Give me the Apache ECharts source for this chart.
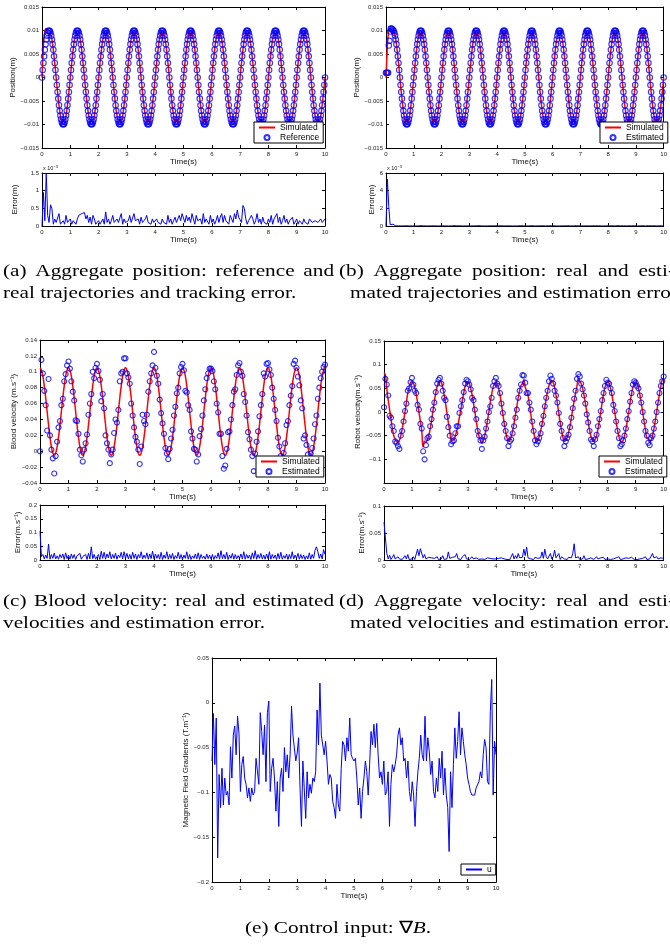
<!DOCTYPE html>
<html>
<head>
<meta charset="utf-8">
<title>Aggregate tracking results</title>
<script src="https://cdn.jsdelivr.net/npm/echarts@6.0.0/dist/echarts.min.js"></script>
<style>
  html, body { margin: 0; padding: 0; background: #fff; }
  #fig { width: 670px; height: 944px; }
</style>
</head>
<body>
<div id="fig"></div>
<script>
// time steps of the sampled series (s)
const POS_DT = 0.025;
const DT = 0.05;

// (a)/(b) reference position, one row per second (m)
const posRef = [
  0, 0.0016, 0.0031, 0.0045, 0.0059, 0.0071, 0.0081, 0.0089, 0.0095, 0.0099, 0.01, 0.0099, 0.0095, 0.0089, 0.0081, 0.0071, 0.0059, 0.0045, 0.0031, 0.0016, 0, -0.0016, -0.0031, -0.0045, -0.0059, -0.0071, -0.0081, -0.0089, -0.0095, -0.0099, -0.01, -0.0099, -0.0095, -0.0089, -0.0081, -0.0071, -0.0059, -0.0045, -0.0031, -0.0016,
  0, 0.0016, 0.0031, 0.0045, 0.0059, 0.0071, 0.0081, 0.0089, 0.0095, 0.0099, 0.01, 0.0099, 0.0095, 0.0089, 0.0081, 0.0071, 0.0059, 0.0045, 0.0031, 0.0016, 0, -0.0016, -0.0031, -0.0045, -0.0059, -0.0071, -0.0081, -0.0089, -0.0095, -0.0099, -0.01, -0.0099, -0.0095, -0.0089, -0.0081, -0.0071, -0.0059, -0.0045, -0.0031, -0.0016,
  0, 0.0016, 0.0031, 0.0045, 0.0059, 0.0071, 0.0081, 0.0089, 0.0095, 0.0099, 0.01, 0.0099, 0.0095, 0.0089, 0.0081, 0.0071, 0.0059, 0.0045, 0.0031, 0.0016, 0, -0.0016, -0.0031, -0.0045, -0.0059, -0.0071, -0.0081, -0.0089, -0.0095, -0.0099, -0.01, -0.0099, -0.0095, -0.0089, -0.0081, -0.0071, -0.0059, -0.0045, -0.0031, -0.0016,
  0, 0.0016, 0.0031, 0.0045, 0.0059, 0.0071, 0.0081, 0.0089, 0.0095, 0.0099, 0.01, 0.0099, 0.0095, 0.0089, 0.0081, 0.0071, 0.0059, 0.0045, 0.0031, 0.0016, 0, -0.0016, -0.0031, -0.0045, -0.0059, -0.0071, -0.0081, -0.0089, -0.0095, -0.0099, -0.01, -0.0099, -0.0095, -0.0089, -0.0081, -0.0071, -0.0059, -0.0045, -0.0031, -0.0016,
  0, 0.0016, 0.0031, 0.0045, 0.0059, 0.0071, 0.0081, 0.0089, 0.0095, 0.0099, 0.01, 0.0099, 0.0095, 0.0089, 0.0081, 0.0071, 0.0059, 0.0045, 0.0031, 0.0016, 0, -0.0016, -0.0031, -0.0045, -0.0059, -0.0071, -0.0081, -0.0089, -0.0095, -0.0099, -0.01, -0.0099, -0.0095, -0.0089, -0.0081, -0.0071, -0.0059, -0.0045, -0.0031, -0.0016,
  0, 0.0016, 0.0031, 0.0045, 0.0059, 0.0071, 0.0081, 0.0089, 0.0095, 0.0099, 0.01, 0.0099, 0.0095, 0.0089, 0.0081, 0.0071, 0.0059, 0.0045, 0.0031, 0.0016, 0, -0.0016, -0.0031, -0.0045, -0.0059, -0.0071, -0.0081, -0.0089, -0.0095, -0.0099, -0.01, -0.0099, -0.0095, -0.0089, -0.0081, -0.0071, -0.0059, -0.0045, -0.0031, -0.0016,
  0, 0.0016, 0.0031, 0.0045, 0.0059, 0.0071, 0.0081, 0.0089, 0.0095, 0.0099, 0.01, 0.0099, 0.0095, 0.0089, 0.0081, 0.0071, 0.0059, 0.0045, 0.0031, 0.0016, 0, -0.0016, -0.0031, -0.0045, -0.0059, -0.0071, -0.0081, -0.0089, -0.0095, -0.0099, -0.01, -0.0099, -0.0095, -0.0089, -0.0081, -0.0071, -0.0059, -0.0045, -0.0031, -0.0016,
  0, 0.0016, 0.0031, 0.0045, 0.0059, 0.0071, 0.0081, 0.0089, 0.0095, 0.0099, 0.01, 0.0099, 0.0095, 0.0089, 0.0081, 0.0071, 0.0059, 0.0045, 0.0031, 0.0016, 0, -0.0016, -0.0031, -0.0045, -0.0059, -0.0071, -0.0081, -0.0089, -0.0095, -0.0099, -0.01, -0.0099, -0.0095, -0.0089, -0.0081, -0.0071, -0.0059, -0.0045, -0.0031, -0.0016,
  0, 0.0016, 0.0031, 0.0045, 0.0059, 0.0071, 0.0081, 0.0089, 0.0095, 0.0099, 0.01, 0.0099, 0.0095, 0.0089, 0.0081, 0.0071, 0.0059, 0.0045, 0.0031, 0.0016, 0, -0.0016, -0.0031, -0.0045, -0.0059, -0.0071, -0.0081, -0.0089, -0.0095, -0.0099, -0.01, -0.0099, -0.0095, -0.0089, -0.0081, -0.0071, -0.0059, -0.0045, -0.0031, -0.0016,
  0, 0.0016, 0.0031, 0.0045, 0.0059, 0.0071, 0.0081, 0.0089, 0.0095, 0.0099, 0.01, 0.0099, 0.0095, 0.0089, 0.0081, 0.0071, 0.0059, 0.0045, 0.0031, 0.0016, 0, -0.0016, -0.0031, -0.0045, -0.0059, -0.0071, -0.0081, -0.0089, -0.0095, -0.0099, -0.01, -0.0099, -0.0095, -0.0089, -0.0081, -0.0071, -0.0059, -0.0045, -0.0031, -0.0016,
  0
];
// start-up transient of the simulated position (first 10 samples)
const posSimStart = [0, 0.0035, 0.0068, 0.0088, 0.0099, 0.0104, 0.0105, 0.0104, 0.0102, 0.01];
// start-up of the estimated position in (b) (first 11 samples)
const posEstStart = [0.001, 0.001, 0.001, 0.001, 0.0068, 0.0078, 0.0098, 0.0104, 0.0104, 0.0102, 0.0101];

// (a) tracking error, x 10^-3 m
const errA = [
  0, 0.95, 0.15, 1.5, 0.3, 0.1, 0.6, 0.5, 0.05, 0.2, 0.1, 0.05, 0.35, 0.05, 0.1, 0.15, 0.05, 0.3, 0.1, 0.05,
  0.2, 0.05, 0.15, 0.1, 0.05, 0.2, 0.3, 0.25, 0.35, 0.3, 0.38, 0.2, 0.3, 0.1, 0.25, 0.05, 0.3, 0.2, 0.05, 0.1,
  0.15, 0.05, 0.1, 0.2, 0.05, 0.4, 0.1, 0.2, 0.05, 0.15, 0.3, 0.1, 0.05, 0.2, 0.1, 0.15, 0.35, 0.05, 0.2, 0.1,
  0.05, 0.15, 0.3, 0.1, 0.05, 0.35, 0.15, 0.1, 0.2, 0.05, 0.25, 0.1, 0.05, 0.2, 0.3, 0.1, 0.15, 0.05, 0.2, 0.1,
  0.05, 0.2, 0.1, 0.15, 0.05, 0.2, 0.1, 0.15, 0.05, 0.3, 0.1, 0.2, 0.05, 0.15, 0.25, 0.1, 0.2, 0.3, 0.15, 0.35,
  0.4, 0.1, 0.3, 0.15, 0.25, 0.1, 0.35, 0.2, 0.05, 0.3, 0.15, 0.1, 0.2, 0.05, 0.35, 0.1, 0.2, 0.15, 0.05, 0.3,
  0.1, 0.2, 0.05, 0.15, 0.3, 0.1, 0.25, 0.35, 0.1, 0.3, 0.15, 0.2, 0.05, 0.3, 0.2, 0.1, 0.35, 0.2, 0.45, 0.25,
  0.3, 0.1, 0.58, 0.5, 0.2, 0.05, 0.15, 0.1, 0.3, 0.2, 0.05, 0.15, 0.35, 0.1, 0.2, 0.05, 0.25, 0.1, 0.15, 0.05,
  0.2, 0.1, 0.3, 0.05, 0.2, 0.15, 0.35, 0.1, 0.25, 0.05, 0.15, 0.3, 0.1, 0.2, 0.05, 0.15, 0.1, 0.25, 0.05, 0.1,
  0.2, 0.05, 0.15, 0.1, 0.05, 0.2, 0.1, 0.15, 0.05, 0.2, 0.25, 0.1, 0.05, 0.15, 0.2, 0.1, 0.05, 0.2, 0.1, 0.15,
  0.2
];

// (b) estimation error, x 10^-3 m
const errB = [
  0, 5.3, 2.2, 0.15, 0.05, 0.2, 0.04, 0.02, 0.05, 0.02, 0.03, 0.01, 0.04, 0.02, 0.01, 0.03, 0.02, 0.01, 0.02, 0.01,
  0.02, 0.01, 0.03, 0.01, 0.02, 0.04, 0.01, 0.02, 0.03, 0.01, 0.02, 0.01, 0.03, 0.02, 0.01, 0.02, 0.04, 0.01, 0.02, 0.01,
  0.01, 0.03, 0.02, 0.01, 0.02, 0.01, 0.03, 0.01, 0.02, 0.04, 0.01, 0.02, 0.01, 0.03, 0.02, 0.01, 0.02, 0.01, 0.03, 0.02,
  0.02, 0.01, 0.03, 0.02, 0.01, 0.02, 0.01, 0.04, 0.02, 0.01, 0.03, 0.01, 0.02, 0.01, 0.03, 0.02, 0.01, 0.02, 0.01, 0.03,
  0.01, 0.02, 0.01, 0.03, 0.02, 0.01, 0.04, 0.02, 0.01, 0.02, 0.03, 0.01, 0.02, 0.01, 0.03, 0.01, 0.02, 0.04, 0.01, 0.02,
  0.02, 0.01, 0.03, 0.01, 0.02, 0.04, 0.02, 0.01, 0.03, 0.02, 0.01, 0.02, 0.01, 0.03, 0.02, 0.01, 0.02, 0.03, 0.01, 0.02,
  0.01, 0.02, 0.04, 0.01, 0.02, 0.01, 0.03, 0.02, 0.01, 0.02, 0.01, 0.03, 0.02, 0.01, 0.04, 0.02, 0.01, 0.03, 0.01, 0.02,
  0.02, 0.01, 0.03, 0.02, 0.01, 0.02, 0.04, 0.01, 0.02, 0.03, 0.1, 0.02, 0.01, 0.03, 0.02, 0.01, 0.02, 0.01, 0.03, 0.02,
  0.08, 0.02, 0.01, 0.03, 0.02, 0.01, 0.02, 0.04, 0.01, 0.02, 0.01, 0.03, 0.02, 0.01, 0.02, 0.03, 0.01, 0.02, 0.01, 0.03,
  0.02, 0.01, 0.08, 0.02, 0.01, 0.03, 0.02, 0.01, 0.02, 0.04, 0.01, 0.02, 0.01, 0.03, 0.02, 0.01, 0.02, 0.03, 0.01, 0.02,
  0.02
];

// (c) blood velocity, simulated and estimated (m/s)
const bloodSim = [
  0.105, 0.102, 0.0945, 0.0823, 0.067, 0.05, 0.033, 0.0177, 0.0055, -0.0023, -0.005, -0.0023, 0.0055, 0.0177, 0.033, 0.05, 0.067, 0.0823, 0.0945, 0.102,
  0.105, 0.102, 0.0945, 0.0823, 0.067, 0.05, 0.033, 0.0177, 0.0055, -0.0023, -0.005, -0.0023, 0.0055, 0.0177, 0.033, 0.05, 0.067, 0.0823, 0.0945, 0.102,
  0.105, 0.102, 0.0945, 0.0823, 0.067, 0.05, 0.033, 0.0177, 0.0055, -0.0023, -0.005, -0.0023, 0.0055, 0.0177, 0.033, 0.05, 0.067, 0.0823, 0.0945, 0.102,
  0.105, 0.102, 0.0945, 0.0823, 0.067, 0.05, 0.033, 0.0177, 0.0055, -0.0023, -0.005, -0.0023, 0.0055, 0.0177, 0.033, 0.05, 0.067, 0.0823, 0.0945, 0.102,
  0.105, 0.102, 0.0945, 0.0823, 0.067, 0.05, 0.033, 0.0177, 0.0055, -0.0023, -0.005, -0.0023, 0.0055, 0.0177, 0.033, 0.05, 0.067, 0.0823, 0.0945, 0.102,
  0.105, 0.102, 0.0945, 0.0823, 0.067, 0.05, 0.033, 0.0177, 0.0055, -0.0023, -0.005, -0.0023, 0.0055, 0.0177, 0.033, 0.05, 0.067, 0.0823, 0.0945, 0.102,
  0.105, 0.102, 0.0945, 0.0823, 0.067, 0.05, 0.033, 0.0177, 0.0055, -0.0023, -0.005, -0.0023, 0.0055, 0.0177, 0.033, 0.05, 0.067, 0.0823, 0.0945, 0.102,
  0.105, 0.102, 0.0945, 0.0823, 0.067, 0.05, 0.033, 0.0177, 0.0055, -0.0023, -0.005, -0.0023, 0.0055, 0.0177, 0.033, 0.05, 0.067, 0.0823, 0.0945, 0.102,
  0.105, 0.102, 0.0945, 0.0823, 0.067, 0.05, 0.033, 0.0177, 0.0055, -0.0023, -0.005, -0.0023, 0.0055, 0.0177, 0.033, 0.05, 0.067, 0.0823, 0.0945, 0.102,
  0.105, 0.102, 0.0945, 0.0823, 0.067, 0.05, 0.033, 0.0177, 0.0055, -0.0023, -0.005, -0.0023, 0.0055, 0.0177, 0.033, 0.05, 0.067, 0.0823, 0.0945, 0.102,
  0.108
];
const bloodEst = [
  0, 0.115, 0.098, 0.076, 0.058, 0.026, 0.091, 0.02, 0.002, -0.009, -0.028, -0.006, 0.012, 0.03, 0.038, 0.058, 0.066, 0.088, 0.097, 0.108,
  0.113, 0.104, 0.088, 0.075, 0.064, 0.039, 0.038, 0.022, 0.002, -0.005, -0.013, 0.002, 0.01, 0.021, 0.046, 0.06, 0.072, 0.1, 0.092, 0.105,
  0.11, 0.101, 0.09, 0.063, 0.072, 0.054, 0.02, 0.01, 0.002, -0.015, -0.004, 0.002, 0.023, 0.04, 0.036, 0.052, 0.088, 0.098, 0.1, 0.117,
  0.117, 0.098, 0.093, 0.085, 0.06, 0.045, 0.03, 0.018, 0.012, 0.002, -0.016, 0.006, 0.046, 0.038, 0.034, 0.046, 0.075, 0.088, 0.098, 0.108,
  0.125, 0.105, 0.095, 0.085, 0.065, 0.048, 0.035, 0.022, 0.004, -0.003, -0.01, 0.003, 0.016, 0.027, 0.045, 0.056, 0.073, 0.08, 0.098, 0.106,
  0.11, 0.102, 0.076, 0.074, 0.058, 0.052, 0.025, 0.016, 0.003, 0.002, -0.013, -0.004, 0.019, 0.028, 0.045, 0.064, 0.078, 0.092, 0.098, 0.104,
  0.104, 0.101, 0.088, 0.078, 0.06, 0.049, 0.022, 0.022, -0.006, -0.022, -0.018, 0.003, 0.024, 0.025, 0.04, 0.058, 0.075, 0.078, 0.096, 0.108,
  0.111, 0.1, 0.095, 0.072, 0.062, 0.045, 0.024, 0.015, 0.002, -0.006, -0.025, -0.003, 0.012, 0.025, 0.044, 0.058, 0.072, 0.098, 0.094, 0.11,
  0.111, 0.103, 0.096, 0.08, 0.066, 0.052, 0.038, 0.017, 0.006, -0.006, -0.01, -0.002, 0.01, 0.033, 0.038, 0.058, 0.07, 0.082, 0.11, 0.114,
  0.105, 0.094, 0.083, 0.064, 0.054, 0.016, 0.02, 0.008, -0.004, -0.01, -0.003, 0.004, 0.016, 0.034, 0.045, 0.066, 0.08, 0.092, 0.1, 0.106,
  0.109
];
const errC = [
  0.105, 0.012, 0.02, 0.004, 0.018, 0.006, 0.058, 0.003, 0.02, 0.006, 0.025, 0.004, 0.015, 0.003, 0.02, 0.008, 0.022, 0.002, 0.026, 0.005,
  0.018, 0.003, 0.022, 0.006, 0.02, 0.002, 0.015, 0.008, 0.024, 0.003, 0.012, 0.006, 0.02, 0.002, 0.024, 0.004, 0.048, 0.005, 0.02, 0.003,
  0.01, 0.02, 0.002, 0.032, 0.006, 0.028, 0.003, 0.022, 0.008, 0.03, 0.004, 0.02, 0.006, 0.025, 0.003, 0.018, 0.009, 0.028, 0.004, 0.03,
  0.006, 0.024, 0.004, 0.02, 0.003, 0.028, 0.006, 0.022, 0.002, 0.02, 0.008, 0.03, 0.004, 0.018, 0.006, 0.026, 0.003, 0.022, 0.005, 0.032,
  0.004, 0.022, 0.006, 0.02, 0.003, 0.028, 0.002, 0.018, 0.006, 0.03, 0.003, 0.02, 0.005, 0.024, 0.002, 0.016, 0.006, 0.028, 0.004, 0.02,
  0.002, 0.018, 0.006, 0.03, 0.003, 0.02, 0.002, 0.015, 0.006, 0.022, 0.004, 0.026, 0.002, 0.02, 0.006, 0.014, 0.003, 0.022, 0.005, 0.018,
  0.004, 0.02, 0.002, 0.016, 0.006, 0.026, 0.003, 0.034, 0.005, 0.02, 0.004, 0.028, 0.002, 0.018, 0.006, 0.024, 0.003, 0.02, 0.004, 0.016,
  0.006, 0.022, 0.004, 0.03, 0.003, 0.02, 0.006, 0.018, 0.002, 0.026, 0.005, 0.034, 0.003, 0.02, 0.006, 0.024, 0.004, 0.018, 0.003, 0.022,
  0.005, 0.03, 0.003, 0.02, 0.006, 0.018, 0.002, 0.024, 0.004, 0.028, 0.003, 0.016, 0.006, 0.022, 0.002, 0.02, 0.005, 0.03, 0.004, 0.018,
  0.006, 0.024, 0.003, 0.02, 0.005, 0.018, 0.002, 0.015, 0.004, 0.026, 0.003, 0.02, 0.006, 0.035, 0.048, 0.03, 0.006, 0.022, 0.004, 0.038,
  0.02
];

// (d) robot (aggregate) velocity, simulated and estimated (m/s)
const robotSim = [
  0.083, 0.078, 0.05, 0.025, 0.005, -0.015, -0.035, -0.05, -0.058, -0.063, -0.064, -0.06, -0.05, -0.036, -0.018, 0, 0.02, 0.04, 0.052, 0.062,
  0.065, 0.061, 0.052, 0.038, 0.02, 0, -0.02, -0.04, -0.074, -0.062, -0.064, -0.058, -0.05, -0.036, -0.018, 0.002, 0.022, 0.04, 0.054, 0.062,
  0.066, 0.062, 0.052, 0.036, 0.018, -0.002, -0.022, -0.04, -0.058, -0.06, -0.058, -0.05, -0.04, -0.026, -0.01, 0.006, 0.024, 0.04, 0.054, 0.062,
  0.064, 0.06, 0.05, 0.036, 0.018, 0, -0.02, -0.038, -0.052, -0.061, -0.066, -0.06, -0.05, -0.036, -0.018, 0, 0.02, 0.038, 0.052, 0.06,
  0.063, 0.06, 0.05, 0.035, 0.016, -0.004, -0.024, -0.042, -0.055, -0.062, -0.06, -0.052, -0.04, -0.024, -0.006, 0.012, 0.03, 0.045, 0.056, 0.06,
  0.068, 0.052, 0.045, 0.035, 0.015, -0.005, -0.025, -0.042, -0.055, -0.062, -0.06, -0.052, -0.04, -0.026, -0.008, 0.01, 0.028, 0.044, 0.056, 0.064,
  0.066, 0.062, 0.052, 0.036, 0.018, -0.002, -0.022, -0.04, -0.054, -0.062, -0.06, -0.054, -0.044, -0.03, -0.012, 0.006, 0.024, 0.04, 0.054, 0.07,
  0.064, 0.06, 0.05, 0.036, 0.018, 0, -0.02, -0.038, -0.052, -0.06, -0.062, -0.058, -0.05, -0.036, -0.018, 0, 0.02, 0.038, 0.052, 0.06,
  0.064, 0.06, 0.05, 0.036, 0.018, 0, -0.02, -0.038, -0.052, -0.061, -0.064, -0.06, -0.05, -0.036, -0.018, 0, 0.02, 0.038, 0.052, 0.06,
  0.064, 0.06, 0.05, 0.036, 0.018, 0, -0.02, -0.038, -0.055, -0.057, -0.064, -0.06, -0.05, -0.036, -0.018, 0, 0.02, 0.038, 0.055, 0.068,
  0.07
];
const robotEst = [
  0.01, 0.07, 0.058, 0.035, -0.008, -0.012, -0.03, -0.04, -0.062, -0.065, -0.072, -0.078, -0.05, -0.04, -0.02, 0.002, 0.018, 0.045, 0.05, 0.063,
  0.072, 0.058, 0.045, 0.04, 0.015, 0.005, -0.025, -0.035, -0.083, -0.1, -0.07, -0.055, -0.052, -0.03, -0.015, 0.005, 0.02, 0.042, 0.06, 0.068,
  0.072, 0.06, 0.045, 0.03, 0.025, -0.01, -0.032, -0.05, -0.068, -0.062, -0.06, -0.045, -0.03, -0.03, -0.002, 0.012, 0.025, 0.042, 0.06, 0.068,
  0.065, 0.058, 0.048, 0.03, 0.025, 0.005, -0.015, -0.04, -0.05, -0.06, -0.078, -0.06, -0.052, -0.035, -0.02, 0, 0.012, 0.03, 0.055, 0.065,
  0.072, 0.06, 0.055, 0.04, 0.018, -0.002, -0.025, -0.04, -0.055, -0.072, -0.062, -0.058, -0.045, -0.03, -0.012, 0.005, 0.03, 0.045, 0.058, 0.078,
  0.077, 0.062, 0.04, 0.04, 0.02, 0.005, -0.02, -0.04, -0.06, -0.068, -0.062, -0.055, -0.045, -0.025, -0.008, 0.012, 0.03, 0.045, 0.065, 0.077,
  0.07, 0.06, 0.045, 0.035, 0.02, -0.002, -0.025, -0.04, -0.055, -0.072, -0.062, -0.055, -0.048, -0.032, -0.012, 0.008, 0.028, 0.045, 0.07, 0.08,
  0.075, 0.06, 0.048, 0.035, 0.018, -0.005, -0.022, -0.04, -0.058, -0.062, -0.072, -0.058, -0.048, -0.03, -0.015, 0.002, 0.025, 0.04, 0.055, 0.068,
  0.062, 0.06, 0.05, 0.04, 0.015, 0.002, -0.02, -0.04, -0.055, -0.072, -0.068, -0.06, -0.05, -0.035, -0.015, 0.002, 0.022, 0.04, 0.058, 0.065,
  0.062, 0.055, 0.05, 0.035, 0.02, 0, -0.02, -0.04, -0.05, -0.065, -0.07, -0.055, -0.05, -0.035, -0.02, 0, 0.02, 0.04, 0.055, 0.065,
  0.075
];
const errD = [
  0.07, 0.073, 0.012, 0.002, 0.009, 0.001, 0.005, 0.01, 0.002, 0.001, 0.006, 0.002, 0.004, 0.001, 0.003, 0.008, 0.002, 0.01, 0.001, 0.004,
  0.002, 0.006, 0.001, 0.004, 0.02, 0.008, 0.021, 0.018, 0.004, 0.01, 0.002, 0.001, 0.005, 0.002, 0.004, 0.001, 0.003, 0.002, 0.006, 0.001,
  0.003, 0.002, 0.008, 0.001, 0.004, 0.002, 0.015, 0.003, 0.001, 0.005, 0.002, 0.006, 0.012, 0.002, 0.004, 0.001, 0.006, 0.003, 0.01, 0.002,
  0.004, 0.001, 0.003, 0.006, 0.002, 0.001, 0.004, 0.002, 0.001, 0.003, 0.002, 0.005, 0.001, 0.002, 0.004, 0.001, 0.003, 0.001, 0.002, 0.004,
  0.002, 0.001, 0.003, 0.002, 0.004, 0.001, 0.002, 0.003, 0.001, 0.002, 0.001, 0.004, 0.012, 0.002, 0.008, 0.003, 0.012, 0.004, 0.002, 0.005,
  0.02, 0.008, 0.024, 0.004, 0.006, 0.002, 0.004, 0.001, 0.005, 0.002, 0.003, 0.001, 0.004, 0.015, 0.003, 0.02, 0.006, 0.002, 0.004, 0.012,
  0.002, 0.006, 0.018, 0.004, 0.002, 0.012, 0.001, 0.006, 0.003, 0.002, 0.004, 0.001, 0.005, 0.002, 0.004, 0.012, 0.03, 0.004, 0.002, 0.006,
  0.001, 0.004, 0.002, 0.008, 0.001, 0.003, 0.002, 0.001, 0.004, 0.002, 0.001, 0.003, 0.006, 0.002, 0.001, 0.004, 0.002, 0.005, 0.001, 0.003,
  0.002, 0.004, 0.001, 0.003, 0.002, 0.001, 0.004, 0.002, 0.006, 0.001, 0.003, 0.002, 0.001, 0.004, 0.002, 0.003, 0.001, 0.005, 0.002, 0.001,
  0.003, 0.001, 0.004, 0.002, 0.001, 0.003, 0.002, 0.006, 0.001, 0.004, 0.002, 0.001, 0.012, 0.004, 0.002, 0.006, 0.002, 0.001, 0.004, 0.002,
  0.003
];

// (e) control input u = grad B (T/m)
const controlU = [
  -0.065, -0.012, -0.069, -0.017, -0.173, -0.08, -0.117, -0.073, -0.114, -0.084, -0.103, -0.099, -0.114, -0.049, -0.084, -0.036, -0.026, -0.058, -0.015, -0.034,
  -0.099, -0.069, -0.06, -0.084, -0.091, -0.106, -0.095, -0.11, -0.095, -0.103, -0.099, -0.062, -0.064, -0.091, -0.011, -0.032, -0.058, -0.025, -0.088, -0.011,
  0.002, -0.099, -0.073, -0.062, -0.084, -0.121, -0.088, -0.138, -0.084, -0.073, -0.099, -0.05, -0.077, -0.058, -0.084, -0.058, -0.004, -0.036, -0.034, -0.065,
  -0.056, -0.039, -0.095, -0.138, -0.065, -0.063, -0.129, -0.077, -0.106, -0.091, -0.101, -0.084, -0.088, -0.077, -0.008, -0.047, 0.022, -0.036, -0.047, -0.058,
  -0.043, -0.065, -0.091, -0.08, -0.084, -0.11, -0.117, -0.129, -0.091, -0.114, -0.121, -0.073, -0.043, -0.047, -0.065, -0.039, -0.054, -0.017, -0.058, -0.062,
  -0.065, -0.062, -0.084, -0.114, -0.095, -0.129, -0.099, -0.084, -0.065, -0.077, -0.103, -0.069, -0.032, -0.047, -0.024, -0.05, -0.023, -0.058, -0.084, -0.077,
  -0.091, -0.065, -0.103, -0.099, -0.077, -0.138, -0.091, -0.069, -0.077, -0.069, -0.058, -0.036, -0.028, -0.047, -0.039, -0.065, -0.062, -0.084, -0.065, -0.099,
  -0.11, -0.088, -0.103, -0.138, -0.099, -0.077, -0.062, -0.036, -0.058, -0.065, -0.015, -0.065, -0.039, -0.054, -0.08, -0.065, -0.099, -0.106, -0.084, -0.099,
  -0.062, -0.084, -0.054, -0.103, -0.073, -0.103, -0.117, -0.166, -0.077, -0.117, -0.069, -0.028, -0.062, -0.043, -0.01, -0.058, -0.028, -0.043, -0.058, -0.069,
  -0.084, -0.091, -0.099, -0.103, -0.101, -0.103, -0.095, -0.095, -0.088, -0.077, -0.084, -0.058, -0.041, -0.05, -0.088, -0.091, -0.01, 0.026, -0.103, -0.043,
  -0.058
];

const posSim = posSimStart.concat(posRef.slice(posSimStart.length));
const posEst = posEstStart.concat(posRef.slice(posEstStart.length));

const SANS = '"Liberation Sans", Arial, Helvetica, sans-serif';
const SERIF = '"Liberation Serif", "Times New Roman", serif';
const RED = '#ff0000';
const BLUE = '#0000ff';

const grids = [];
const xAxes = [];
const yAxes = [];
const series = [];

function tickText(v) {
  return String(+v.toFixed(4)).replace('-', '\u2212');
}

// one Matlab style box: labelled bottom/left axes, tick-only top/right axes
function addPanel(box, y) {
  const g = grids.length;
  grids.push({ left: box[0], top: box[1], width: box[2] - box[0], height: box[3] - box[1] });
  const line = { show: true, onZero: false, lineStyle: { color: '#000', width: 1 } };
  const tick = { show: true, inside: true, length: 3, lineStyle: { color: '#000', width: 1 } };
  const label = { fontSize: 6, color: '#222', fontFamily: SANS, margin: 3, formatter: tickText };
  const nameStyle = { fontSize: 8, color: '#111', fontFamily: SANS };
  const xBase = { gridIndex: g, type: 'value', min: 0, max: 10, interval: 1, axisLine: line, axisTick: tick, splitLine: { show: false } };
  const yBase = { gridIndex: g, type: 'value', min: y.min, max: y.max, interval: y.step, axisLine: line, axisTick: tick, splitLine: { show: false } };
  xAxes.push(Object.assign({}, xBase, {
    position: 'bottom', axisLabel: label,
    name: 'Time(s)', nameLocation: 'middle', nameGap: y.xGap, nameTextStyle: nameStyle
  }));
  xAxes.push(Object.assign({}, xBase, { position: 'top', axisLabel: { show: false } }));
  yAxes.push(Object.assign({}, yBase, {
    position: 'left', axisLabel: Object.assign({}, label, { showMinLabel: y.hideMin ? false : true }),
    name: y.name, nameLocation: 'middle', nameRotate: 90, nameGap: y.gap, nameTextStyle: nameStyle
  }));
  yAxes.push(Object.assign({}, yBase, { position: 'right', axisLabel: { show: false } }));
  return { x: xAxes.length - 2, y: yAxes.length - 2 };
}

function withTime(values, dt) {
  return values.map((v, i) => [i * dt, v]);
}

function addLine(ax, name, values, dt, color, width, smooth) {
  series.push({
    type: 'line', name: name, xAxisIndex: ax.x, yAxisIndex: ax.y,
    data: withTime(values, dt), symbol: 'none', showSymbol: false, smooth: !!smooth,
    lineStyle: { color: color, width: width }, itemStyle: { color: color }, silent: true
  });
}

function addCircles(ax, name, values, dt, size) {
  series.push({
    type: 'scatter', name: name, xAxisIndex: ax.x, yAxisIndex: ax.y,
    data: withTime(values, dt), symbol: 'circle', symbolSize: size, clip: false,
    itemStyle: { color: 'rgba(0,0,0,0)', borderColor: BLUE, borderWidth: 1.1 }, silent: true, z: 3
  });
}

const SUP = '\u207B\u00B9';
const pA = addPanel([42, 7, 325, 148], { min: -0.015, max: 0.015, step: 0.005, name: 'Position(m)', gap: 24, xGap: 9 });
const eA = addPanel([42, 173, 325, 226], { min: 0, max: 1.5, step: 0.5, name: 'Error(m)', gap: 23, xGap: 8 });
const pB = addPanel([386, 7, 668, 148], { min: -0.015, max: 0.015, step: 0.005, name: 'Position(m)', gap: 24, xGap: 9 });
const eB = addPanel([386, 173, 668, 226], { min: 0, max: 6, step: 2, name: 'Error(m)', gap: 9, xGap: 8 });
const vC = addPanel([40, 340, 325, 483], { min: -0.04, max: 0.14, step: 0.02, name: 'Blood velocity (m.s' + SUP + ')', gap: 20, xGap: 9 });
const eC = addPanel([40, 505, 325, 560], { min: 0, max: 0.2, step: 0.05, name: 'Error(m.s' + SUP + ')', gap: 16, xGap: 8 });
const vD = addPanel([384, 341, 668, 483], { min: -0.15, max: 0.15, step: 0.05, name: 'Robot velocity(m.s' + SUP + ')', gap: 21, xGap: 9, hideMin: true });
const eD = addPanel([384, 506, 668, 560], { min: 0, max: 0.1, step: 0.05, name: 'Error(m.s' + SUP + ')', gap: 16, xGap: 8 });
const uE = addPanel([212, 658, 496, 882], { min: -0.2, max: 0.05, step: 0.05, name: 'Magnetic Field Gradients (T.m' + SUP + ')', gap: 21, xGap: 10 });

addLine(pA, 'Simulated', posSim, POS_DT, RED, 1.5);
addCircles(pA, 'Reference', posRef, POS_DT, 5.5);
addLine(eA, 'errA', errA, DT, BLUE, 1);
addLine(pB, 'Simulated', posSim, POS_DT, RED, 1.5);
addCircles(pB, 'Estimated', posEst, POS_DT, 5.5);
addLine(eB, 'errB', errB, DT, BLUE, 1);
addLine(vC, 'Simulated', bloodSim, DT, RED, 1.5, true);
addCircles(vC, 'Estimated', bloodEst, DT, 5);
addLine(eC, 'errC', errC, DT, BLUE, 1);
addLine(vD, 'Simulated', robotSim, DT, RED, 1.5, true);
addCircles(vD, 'Estimated', robotEst, DT, 5);
addLine(eD, 'errD', errD, DT, BLUE, 1);
addLine(uE, 'u', controlU, DT, BLUE, 1);

// legend entries for line series: hide the dot ECharts puts on the line icon
function lineEntry(name) {
  return { name: name, itemStyle: { opacity: 0 } };
}
function legendBox(left, top, names) {
  return {
    orient: 'vertical', left: left, top: top, data: names, selectedMode: false,
    itemWidth: 16, itemHeight: 5, itemGap: 1, padding: [1, 4, 1, 4],
    borderColor: '#000', borderWidth: 1, backgroundColor: '#fff',
    textStyle: { fontSize: 8.5, color: '#000', fontFamily: SANS }
  };
}

// captions under the panels; the scanned serif text is wider than it is tall
const CAP_FONT = '17px ' + SERIF;
const CAP_SX = 1.25;
const measure = document.createElement('canvas').getContext('2d');
function capText(text, x, y) {
  return {
    type: 'text', x: x, y: y, scaleX: CAP_SX,
    style: { text: text, fill: '#000', font: CAP_FONT, textVerticalAlign: 'middle', verticalAlign: 'middle' }
  };
}
function caption(text, x0, y, x1) {
  if (!x1) return [capText(text, x0, y)];
  measure.font = CAP_FONT;
  const words = text.split(' ');
  const widths = words.map(w => measure.measureText(w).width * CAP_SX);
  const gap = (x1 - x0 - widths.reduce((a, b) => a + b, 0)) / (words.length - 1);
  let x = x0;
  return words.map((w, i) => {
    const el = capText(w, x, y);
    x += widths[i] + gap;
    return el;
  });
}

function scaleNote(x, y) {
  return {
    type: 'text', x: x, y: y,
    style: {
      text: '{a|x 10}{b|\u22123}',
      rich: {
        a: { fontSize: 5.5, fontFamily: SANS, fill: '#222', verticalAlign: 'bottom' },
        b: { fontSize: 4, fontFamily: SANS, fill: '#222', verticalAlign: 'top' }
      },
      textVerticalAlign: 'middle', verticalAlign: 'middle'
    }
  };
}

const graphics = [].concat(
  [scaleNote(43, 168), scaleNote(387, 168)],
  caption('(a) Aggregate position: reference and', 3, 272, 334),
  caption('real trajectories and tracking error.', 3, 294),
  caption('(b) Aggregate position: real and esti-', 339, 272, 675),
  caption('mated trajectories and estimation error.', 350, 294),
  caption('(c) Blood velocity: real and estimated', 3, 602, 334),
  caption('velocities and estimation error.', 3, 624),
  caption('(d) Aggregate velocity: real and esti-', 339, 602, 675),
  caption('mated velocities and estimation error.', 350, 624),
  [{
    type: 'text', x: 338, y: 929, scaleX: CAP_SX,
    style: {
      text: '{n|(e) Control input: \u2207}{i|B}{n|.}',
      rich: {
        n: { fontSize: 17, fontFamily: SERIF, fill: '#000' },
        i: { fontSize: 17, fontFamily: SERIF, fontStyle: 'italic', fill: '#000' }
      },
      textAlign: 'center', align: 'center', textVerticalAlign: 'middle', verticalAlign: 'middle'
    }
  }]
);

const chart = echarts.init(document.getElementById('fig'), null, { renderer: 'canvas' });
chart.setOption({
  backgroundColor: '#fff',
  animation: false,
  grid: grids,
  xAxis: xAxes,
  yAxis: yAxes,
  legend: [
    legendBox(254, 122, [lineEntry('Simulated'), 'Reference']),
    legendBox(600, 122, [lineEntry('Simulated'), 'Estimated']),
    legendBox(256, 456, [lineEntry('Simulated'), 'Estimated']),
    legendBox(599, 456, [lineEntry('Simulated'), 'Estimated']),
    legendBox(461, 864, [lineEntry('u')])
  ],
  series: series,
  graphic: graphics
});
</script>
</body>
</html>
